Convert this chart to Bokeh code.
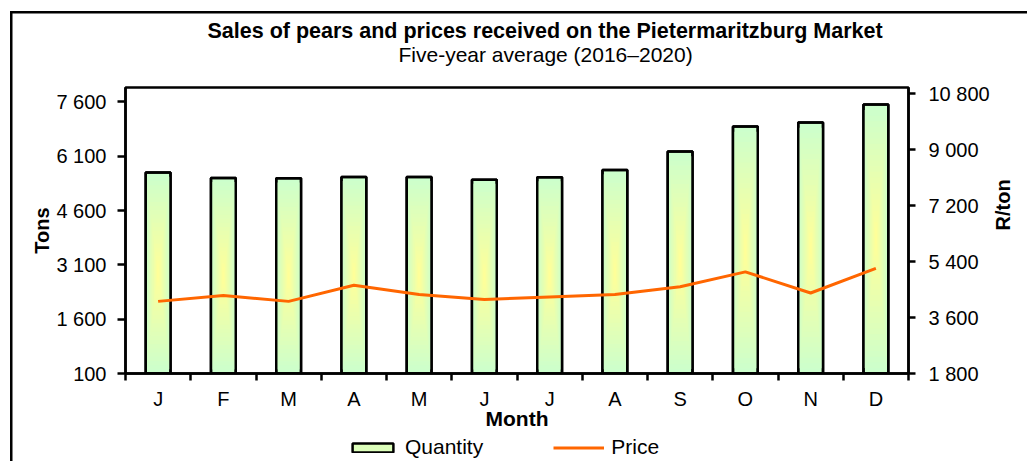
import math
import numpy as np
from bokeh.plotting import figure
from bokeh.layouts import column
from bokeh.models import (Range1d, LinearAxis, FixedTicker, Legend, LegendItem, Title)
from bokeh.embed import file_html
from bokeh.resources import INLINE

# ---------------- data ----------------
months = ["J", "F", "M", "A", "M", "J", "J", "A", "S", "O", "N", "D"]
quantity = [5650, 5500, 5490, 5530, 5530, 5450, 5520, 5720, 6230, 6920, 7030, 7530]
price = [4120, 4310, 4120, 4640, 4340, 4180, 4260, 4340, 4590, 5070, 4390, 5180]
tons_ticks = [100, 1600, 3100, 4600, 6100, 7600]
price_ticks = [1800, 3600, 5400, 7200, 9000, 10800]

title_text = "Sales of pears and prices received on the Pietermaritzburg Market"
subtitle_text = "Five-year average (2016\u20132020)"

FONT = "Liberation Sans"

idx = list(range(1, len(months) + 1))

def fmt(v):
    return f"{v:,}".replace(",", " ")

p = figure(width=1027, height=432, title=None,
           x_range=Range1d(0.5, len(months) + 0.5),
           y_range=Range1d(100, 8000),
           output_backend="svg", toolbar_location=None,
           min_border_left=125, min_border_right=117,
           min_border_top=87, min_border_bottom=54)
p.extra_y_ranges = {"price": Range1d(1800, 11000)}
p.grid.visible = False
p.outline_line_color = "black"
p.outline_line_width = 2.5
p.background_fill_color = "white"
p.border_fill_color = None

# x axis: labels at centres, tick marks between categories (minor ticks)
xa = p.xaxis[0]
xa.ticker = FixedTicker(ticks=idx, minor_ticks=[i - 0.5 for i in idx] + [idx[-1] + 0.5])
xa.major_label_overrides = {i: m for i, m in zip(idx, months)}
xa.major_tick_out = 0
xa.major_tick_in = 0
xa.minor_tick_out = 7
xa.minor_tick_in = 0
xa.minor_tick_line_color = "black"
xa.minor_tick_line_width = 2.5
xa.axis_line_width = 2.5
xa.axis_line_color = "black"
xa.major_label_standoff = 7
xa.major_label_text_font = FONT
xa.major_label_text_font_size = "20px"
xa.major_label_text_color = "black"
xa.axis_label = "Month"
xa.axis_label_text_font = FONT
xa.axis_label_text_font_size = "21px"
xa.axis_label_text_font_style = "bold"
xa.axis_label_text_color = "black"
xa.axis_label_standoff = -6

ya = p.yaxis[0]
ya.ticker = FixedTicker(ticks=tons_ticks, minor_ticks=[])
ya.major_label_overrides = {v: fmt(v) for v in tons_ticks}
ya.major_tick_out = 8
ya.major_tick_in = 0
ya.minor_tick_out = 0
ya.minor_tick_in = 0
ya.major_tick_line_width = 2.5
ya.axis_line_width = 2.5
ya.major_label_standoff = 11
ya.major_label_text_font = FONT
ya.major_label_text_font_size = "20px"
ya.major_label_text_color = "black"
ya.axis_label = "Tons"
ya.axis_label_text_font = FONT
ya.axis_label_text_font_size = "20px"
ya.axis_label_text_font_style = "bold"
ya.axis_label_text_color = "black"
ya.axis_label_standoff = 0

ra = LinearAxis(y_range_name="price",
                ticker=FixedTicker(ticks=price_ticks, minor_ticks=[]),
                major_label_overrides={v: fmt(v) for v in price_ticks})
ra.major_tick_out = 7
ra.major_tick_in = 0
ra.minor_tick_out = 0
ra.minor_tick_in = 0
ra.major_tick_line_width = 2.5
ra.axis_line_width = 2.5
ra.major_label_standoff = 13
ra.major_label_text_font = FONT
ra.major_label_text_font_size = "20px"
ra.major_label_text_color = "black"
ra.axis_label = "R/ton"
ra.axis_label_text_font = FONT
ra.axis_label_text_font_size = "20px"
ra.axis_label_text_font_style = "bold"
ra.axis_label_text_color = "black"
ra.axis_label_standoff = 10
if "axis_label_orientation" in ra.properties():
    ra.axis_label_orientation = math.pi / 2
p.add_layout(ra, "right")

# ---------------- bars with centre gradient ----------------
bar_w = 0.38
base = tons_ticks[0]
q = np.array(quantity, dtype=float)
heights = q - base
mid = base + heights / 2
green = np.array([204, 255, 204])
yellow = np.array([255, 255, 153])

p.vbar(x=idx, top=quantity, bottom=base, width=bar_w,
       fill_color="#CCFFCC", line_color="black", line_width=2.5)
K = 24
for k in range(1, K):
    f = 1 - k / K
    t = k / (K - 1)
    c = green + (yellow - green) * t
    col = "#%02x%02x%02x" % tuple(int(round(v)) for v in c)
    p.rect(x=idx, y=mid, width=bar_w * f, height=heights * f,
           fill_color=col, line_color=None)
p.vbar(x=idx, top=quantity, bottom=base, width=bar_w,
       fill_color=None, line_color="black", line_width=2.5)

p.line(idx, price, y_range_name="price", line_color="#FF6600", line_width=3)

# ---------------- titles ----------------
sub = Title(text=subtitle_text, align="left", offset=273, standoff=44,
            text_font=FONT, text_font_size="21px", text_font_style="normal",
            text_color="black")
main = Title(text=title_text, align="left", offset=82, standoff=2,
             text_font=FONT, text_font_size="21.5px", text_font_style="bold",
             text_color="black")
try:
    main.standoff = -49
except Exception:
    pass
p.add_layout(sub, "above")
p.add_layout(main, "above")

# ---------------- legend strip ----------------
lf = figure(width=1027, height=29, output_backend="svg", toolbar_location=None,
            x_axis_type=None, y_axis_type=None, title=None,
            x_range=Range1d(0, 1), y_range=Range1d(0, 1),
            min_border=0, min_border_left=0, min_border_right=0,
            min_border_top=0, min_border_bottom=0)
lf.outline_line_color = None
lf.background_fill_color = None
lf.border_fill_color = None
lf.grid.visible = False
# swatch-only renderers (no visible data)
nan = float("nan")
q_sw = lf.vbar(x=[nan], top=[nan], bottom=[nan], width=0.1,
               fill_color="#DDFFBB", line_color="black", line_width=2.5)
p_sw = lf.line(x=[nan, nan], y=[nan, nan], line_color="#FF6600", line_width=3)
legend = Legend(items=[LegendItem(label="Quantity", renderers=[q_sw]),
                       LegendItem(label="Price", renderers=[p_sw])],
                orientation="horizontal", location=(222, 2),
                glyph_width=51, glyph_height=11, label_standoff=7, spacing=70,
                padding=0, margin=0, border_line_color=None,
                background_fill_alpha=0,
                label_text_font=FONT, label_text_font_size="21px",
                label_text_color="black", label_height=20)
lf.add_layout(legend, "center")

layout = column(p, lf, spacing=0)
# outer chart border: only left and top edges are visible (cropped chart)
layout.styles = {"box-shadow": "inset 10px 11px 0 0 white, inset 12.5px 13.5px 0 0 black",
                 "background-color": "white"}

open("out.html", "w").write(file_html(layout, INLINE))
